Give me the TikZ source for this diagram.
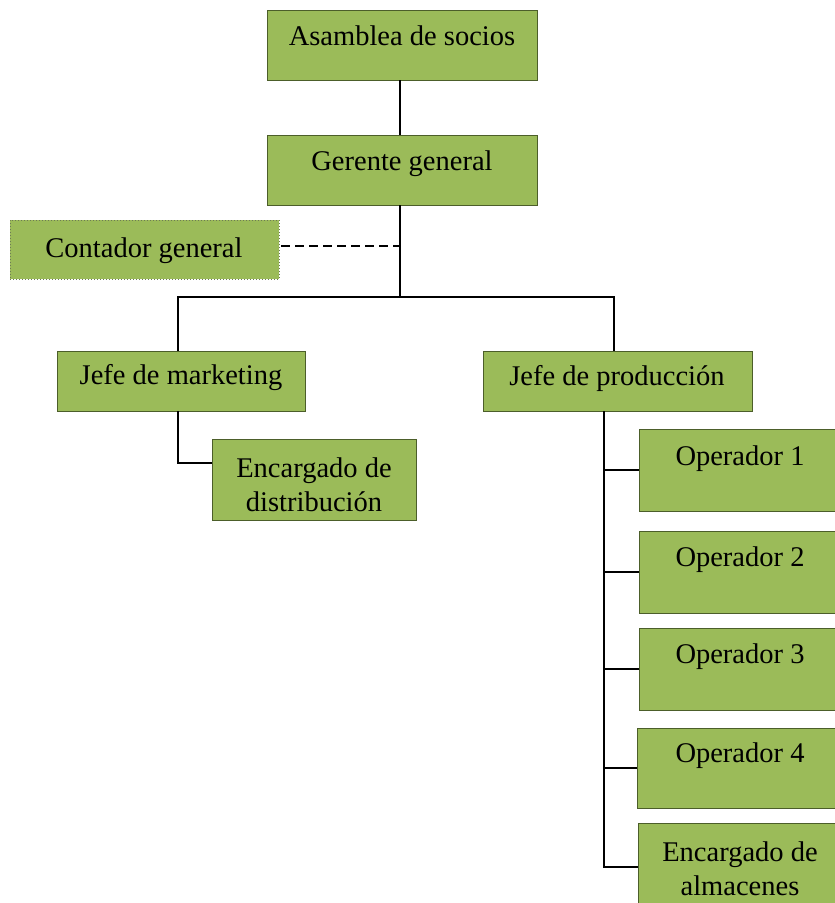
\documentclass[tikz,border=0pt]{standalone}
\usepackage{fontspec}
\setmainfont{Liberation Serif}
\usetikzlibrary{calc}
\definecolor{boxfill}{HTML}{9BBB59}
\definecolor{boxline}{HTML}{4C5E2A}
\definecolor{dotline}{HTML}{6E7B55}
\tikzset{
  orgbox/.style={draw=boxline, line width=1pt, fill=boxfill, inner sep=0pt, outer sep=0pt, rectangle},
  dotbox/.style={draw=dotline, line width=1pt, dotted, fill=boxfill, inner sep=0pt, outer sep=0pt, rectangle},
  lbl/.style={inner sep=0pt, anchor=base, font=\fontsize{28.5}{34}\selectfont},
  conn/.style={draw=black, line width=2.8pt},
  dconn/.style={draw=black, line width=1.7pt, dash pattern=on 9pt off 5pt}
}
\begin{document}
\begin{tikzpicture}[x=1pt,y=-1pt]
\useasboundingbox (0,0) rectangle (835,903);
\clip (0,0) rectangle (835,903);
% boxes
\node[orgbox, minimum width=270, minimum height=70] (asam) at (402,45) {};
\node[orgbox, minimum width=270, minimum height=70] (ger) at (402,170) {};
\node[dotbox, minimum width=269, minimum height=59] (cont) at (144.5,249.5) {};
\node[orgbox, minimum width=248, minimum height=60] (mkt) at (181,381) {};
\node[orgbox, minimum width=269, minimum height=60] (prod) at (617.5,381) {};
\node[orgbox, minimum width=204, minimum height=81] (dist) at (314,479.5) {};
\node[orgbox, minimum width=203, minimum height=82] (op1) at (740.5,470) {};
\node[orgbox, minimum width=203, minimum height=82] (op2) at (740.5,572) {};
\node[orgbox, minimum width=203, minimum height=82] (op3) at (740.5,669) {};
\node[orgbox, minimum width=205, minimum height=80] (op4) at (739.5,768) {};
\node[orgbox, minimum width=204, minimum height=88] (alm) at (740,867) {};
% texts
\node[lbl] (tasam) at (402,45) {Asamblea de socios};
\node[lbl] (tger) at (402,170) {Gerente general};
\node[lbl] (tcont) at (144,257) {Contador general};
\node[lbl] (tmkt) at (181,384) {Jefe de marketing};
\node[lbl] (tprod) at (617,385) {Jefe de producción};
\node[lbl] (tdist) at (314,477) {\begin{tabular}[t]{@{}c@{}}Encargado de\\ distribución\end{tabular}};
\node[lbl] (top1) at (740,465) {Operador 1};
\node[lbl] (top2) at (740,566) {Operador 2};
\node[lbl] (top3) at (740,663) {Operador 3};
\node[lbl] (top4) at (740,762) {Operador 4};
\node[lbl] (talm) at (740,861) {\begin{tabular}[t]{@{}c@{}}Encargado de\\ almacenes\end{tabular}};
% connectors
\coordinate (junc) at (400,297);
\coordinate (dashend) at (400,246);
\coordinate (bus) at (604,411);
\draw[conn] ([xshift=-2pt]asam.south) -- ([xshift=-2pt]ger.north);
\draw[conn] ([xshift=-2pt]ger.south) -- (junc);
\draw[dconn] ([xshift=2pt]cont.east |- dashend) -- (dashend);
\draw[conn] (junc) -| ([xshift=-3pt]mkt.north);
\draw[conn] (junc) -| ([xshift=-3.5pt]prod.north);
\draw[conn] ([xshift=-3pt]mkt.south) |- ([yshift=16.5pt]dist.west);
\draw[conn] (bus) |- (alm.west);
\draw[conn] (op1.west) -- (bus |- op1.west);
\draw[conn] (op2.west) -- (bus |- op2.west);
\draw[conn] (op3.west) -- (bus |- op3.west);
\draw[conn] (op4.west) -- (bus |- op4.west);
\end{tikzpicture}
\end{document}
